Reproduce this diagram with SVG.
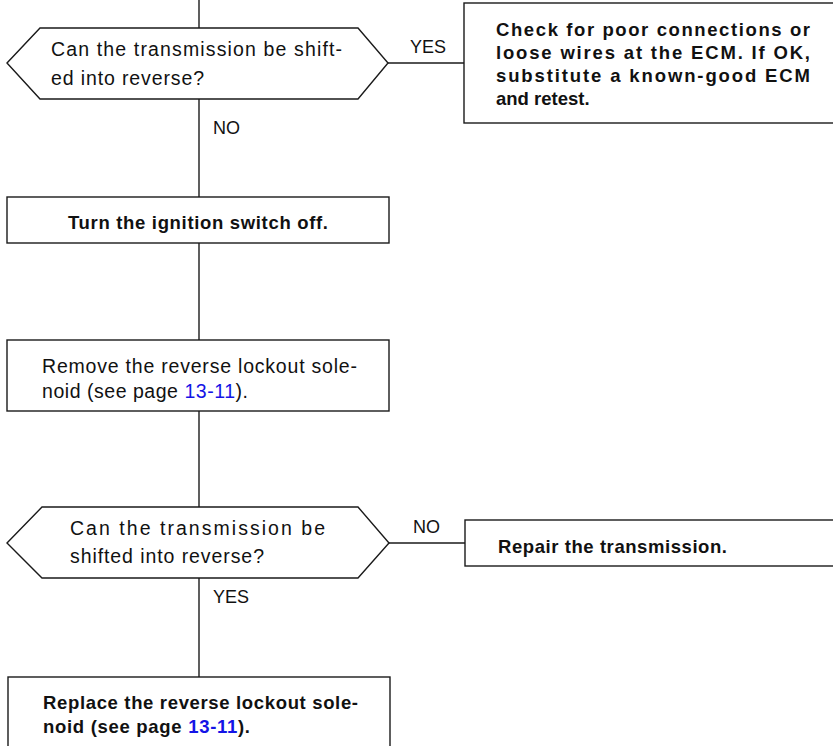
<svg xmlns="http://www.w3.org/2000/svg" width="833" height="746" viewBox="0 0 833 746">
  <style>
    .shape { fill: #ffffff; stroke: #1a1a1a; stroke-width: 1.4; }
    .wire { fill: none; stroke: #1a1a1a; stroke-width: 1.4; }
    .t { font-family: "Liberation Sans", Arial, Helvetica, sans-serif; font-size: 19.5px; fill: #111111; }
    .b { font-weight: bold; font-size: 18.5px; }
    .lbl { font-size: 18px; }
    .ref { fill: #1414e6; }
  </style>
  <rect x="0" y="0" width="833" height="746" fill="#ffffff"/>

  <!-- connectors -->
  <g id="connectors">
    <path class="wire" d="M199,0 V28"/>
    <path class="wire" d="M199,99 V197"/>
    <path class="wire" d="M199,243 V340"/>
    <path class="wire" d="M199,411 V507"/>
    <path class="wire" d="M199,578 V677"/>
    <path class="wire" d="M388,63 H464"/>
    <path class="wire" d="M389,543 H465"/>
    <text class="t lbl" x="410" y="53">YES</text>
    <text class="t lbl" x="213" y="134">NO</text>
    <text class="t lbl" x="413" y="533">NO</text>
    <text class="t lbl" x="213" y="603">YES</text>
  </g>

  <!-- first decision -->
  <g id="q-reverse-1">
    <polygon class="shape" points="7,63 40,28 358,28 388,63 358,99 40,99"/>
    <text class="t" x="51" y="56" textLength="291" lengthAdjust="spacing">Can the transmission be shift-</text>
    <text class="t" x="51" y="85" textLength="153" lengthAdjust="spacing">ed into reverse?</text>
  </g>

  <!-- ECM check -->
  <g id="check-ecm">
    <rect class="shape" x="464" y="3" width="380" height="120"/>
    <text class="t b" x="496" y="36" textLength="314" lengthAdjust="spacing">Check for poor connections or</text>
    <text class="t b" x="496" y="59" textLength="314" lengthAdjust="spacing">loose wires at the ECM. If OK,</text>
    <text class="t b" x="496" y="82" textLength="314" lengthAdjust="spacing">substitute a known-good ECM</text>
    <text class="t b" x="496" y="105">and retest.</text>
  </g>

  <!-- ignition off -->
  <g id="ignition-off">
    <rect class="shape" x="7" y="197" width="382" height="46"/>
    <text class="t b" x="68" y="229" textLength="260" lengthAdjust="spacing">Turn the ignition switch off.</text>
  </g>

  <!-- remove solenoid -->
  <g id="remove-solenoid">
    <rect class="shape" x="7" y="340" width="382" height="71"/>
    <text class="t" x="42" y="373" textLength="315" lengthAdjust="spacing">Remove the reverse lockout sole-</text>
    <text class="t" x="42" y="398" textLength="206" lengthAdjust="spacing">noid (see page <tspan class="ref">13-11</tspan>).</text>
  </g>

  <!-- second decision -->
  <g id="q-reverse-2">
    <polygon class="shape" points="7,543 42,507 358,507 389,543 358,578 42,578"/>
    <text class="t" x="70" y="535" textLength="255" lengthAdjust="spacing">Can the transmission be</text>
    <text class="t" x="70" y="563" textLength="194" lengthAdjust="spacing">shifted into reverse?</text>
  </g>

  <!-- repair transmission -->
  <g id="repair-transmission">
    <rect class="shape" x="465" y="520" width="380" height="46"/>
    <text class="t b" x="498" y="553" textLength="229" lengthAdjust="spacing">Repair the transmission.</text>
  </g>

  <!-- replace solenoid -->
  <g id="replace-solenoid">
    <rect class="shape" x="8" y="677" width="382" height="90"/>
    <text class="t b" x="43" y="709" textLength="315" lengthAdjust="spacing">Replace the reverse lockout sole-</text>
    <text class="t b" x="43" y="733" textLength="207" lengthAdjust="spacing">noid (see page <tspan class="ref">13-11</tspan>).</text>
  </g>
</svg>
